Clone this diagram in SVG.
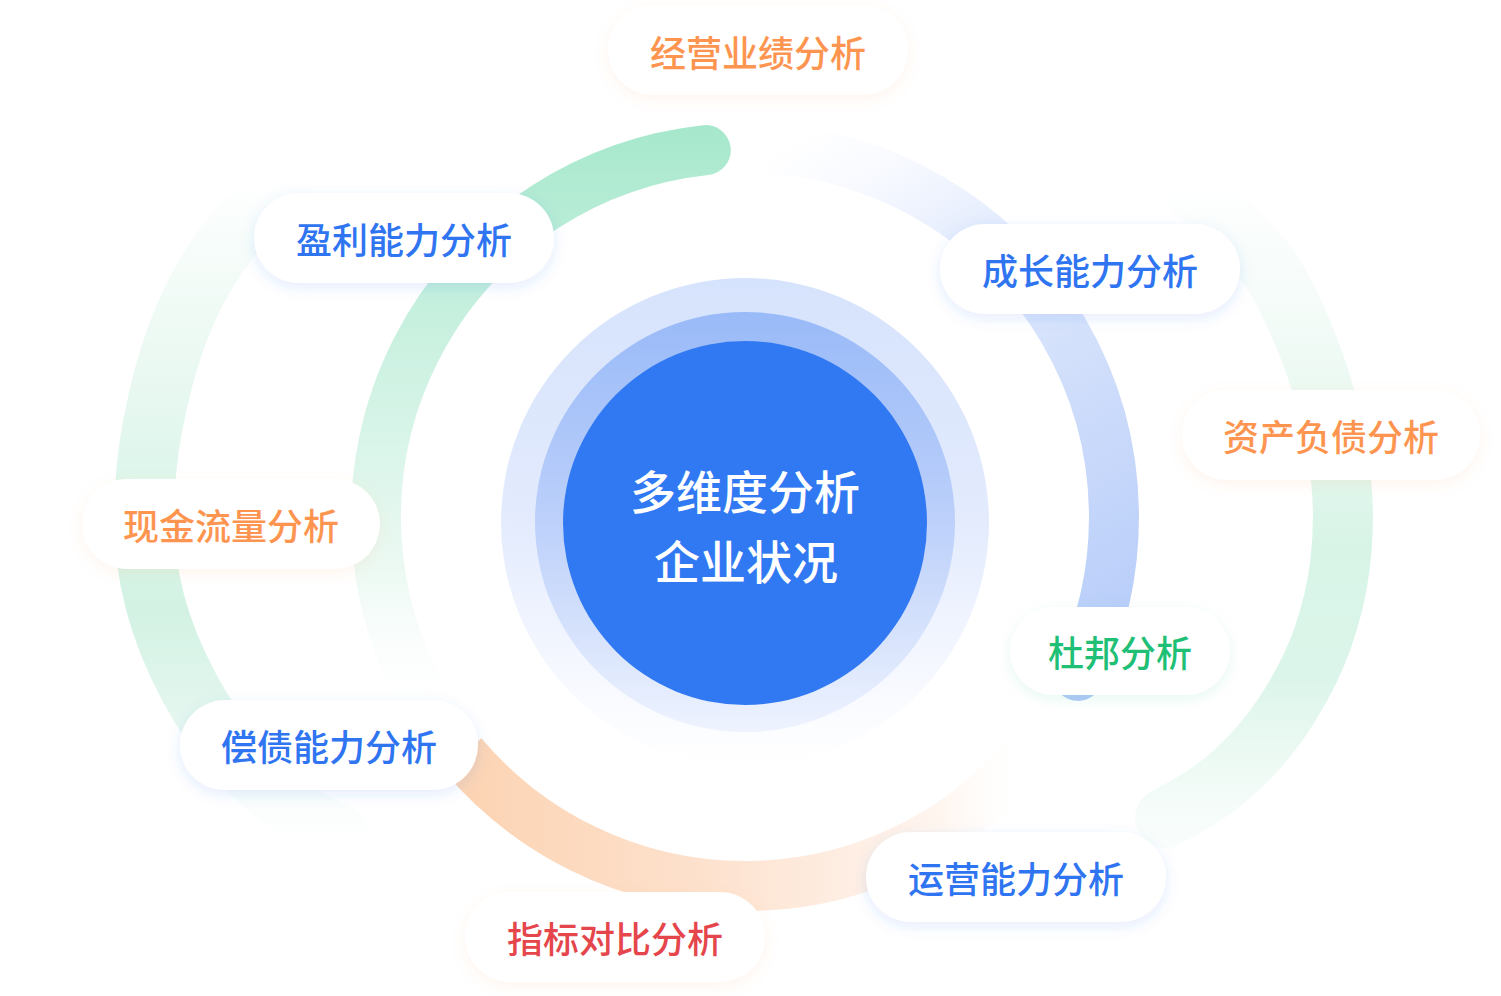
<svg xmlns="http://www.w3.org/2000/svg" width="1501" height="996" viewBox="0 0 1501 996">
<style>
.pill{fill:#ffffff}
.t{font-family:"Noto Sans CJK SC","Noto Sans",sans-serif;font-size:36px;font-weight:500;text-anchor:middle;dominant-baseline:central}
.blue{fill:#2f74f0}
.orange{fill:#fd9550}
.green{fill:#1fbf76}
.red{fill:#e5464b}
.center{font-family:"Noto Sans CJK SC","Noto Sans",sans-serif;font-size:46px;font-weight:500;fill:#ffffff;text-anchor:middle;dominant-baseline:central}
.arc{fill:none}
</style>
<defs>
<filter id="shB" x="-20%" y="-50%" width="140%" height="200%">
<feDropShadow dx="0" dy="4" stdDeviation="7" flood-color="#2f6ef0" flood-opacity="0.13"/>
</filter>
<filter id="shO" x="-20%" y="-50%" width="140%" height="200%">
<feDropShadow dx="0" dy="4" stdDeviation="7" flood-color="#ff9a4f" flood-opacity="0.10"/>
</filter>
<filter id="shG" x="-20%" y="-50%" width="140%" height="200%">
<feDropShadow dx="0" dy="4" stdDeviation="7" flood-color="#22c17a" flood-opacity="0.10"/>
</filter>
<linearGradient id="gOuterL" gradientUnits="userSpaceOnUse" x1="0" y1="180" x2="0" y2="845">
<stop offset="0" stop-color="#e6f8ef" stop-opacity="0"/>
<stop offset="0.25" stop-color="#e9f8f1" stop-opacity="0.85"/>
<stop offset="0.5" stop-color="#d9f5e9"/>
<stop offset="0.65" stop-color="#d3f2e4"/>
<stop offset="0.82" stop-color="#e6f7ef"/>
<stop offset="1" stop-color="#f6fcf9" stop-opacity="0"/>
</linearGradient>
<linearGradient id="gOuterR" gradientUnits="userSpaceOnUse" x1="0" y1="185" x2="0" y2="845">
<stop offset="0" stop-color="#eaf9f2" stop-opacity="0"/>
<stop offset="0.12" stop-color="#f1faf6" stop-opacity="0.5"/>
<stop offset="0.3" stop-color="#ecf9f3"/>
<stop offset="0.55" stop-color="#d8f4e7"/>
<stop offset="0.75" stop-color="#dcf5ea"/>
<stop offset="1" stop-color="#f6fcf9" stop-opacity="0.6"/>
</linearGradient>
<linearGradient id="gInG" gradientUnits="userSpaceOnUse" x1="0" y1="125" x2="0" y2="720">
<stop offset="0" stop-color="#a6e8cc"/>
<stop offset="0.25" stop-color="#c1eedb"/>
<stop offset="0.5" stop-color="#d6f4e7"/>
<stop offset="0.75" stop-color="#ecf9f3"/>
<stop offset="1" stop-color="#ffffff" stop-opacity="0"/>
</linearGradient>
<linearGradient id="gInB" gradientUnits="userSpaceOnUse" x1="770" y1="150" x2="1080" y2="700">
<stop offset="0" stop-color="#f4f7ff" stop-opacity="0"/>
<stop offset="0.25" stop-color="#e7eefd"/>
<stop offset="0.55" stop-color="#d0defb"/>
<stop offset="1" stop-color="#b3caf9"/>
</linearGradient>
<linearGradient id="gInO" gradientUnits="userSpaceOnUse" x1="455" y1="0" x2="1030" y2="0">
<stop offset="0" stop-color="#fcd3b2"/>
<stop offset="0.4" stop-color="#fde0cb"/>
<stop offset="0.65" stop-color="#feece0"/>
<stop offset="0.85" stop-color="#fff6f0"/>
<stop offset="1" stop-color="#ffffff" stop-opacity="0"/>
</linearGradient>
<linearGradient id="gHalo" x1="0" y1="0" x2="0" y2="1">
<stop offset="0" stop-color="#d6e3fc"/>
<stop offset="0.5" stop-color="#e3ebfd"/>
<stop offset="0.9" stop-color="#fbfcff"/>
<stop offset="1" stop-color="#ffffff"/>
</linearGradient>
<linearGradient id="gMid" x1="0" y1="0" x2="0" y2="1">
<stop offset="0" stop-color="#99baf8"/>
<stop offset="0.5" stop-color="#bcd0fa"/>
<stop offset="1" stop-color="#eef3fe"/>
</linearGradient>
</defs>
<rect x="0" y="0" width="1501" height="996" fill="#ffffff"/>

<g id="connectors">
<path id="outer-left" class="arc" stroke="url(#gOuterL)" stroke-width="60" stroke-linecap="round" d="M285,180 C275,190.8 241.7,222.5 225,245 C208.3,267.5 196.2,289.2 185,315 C173.8,340.8 164.7,370.8 158,400 C151.3,429.2 146.3,460 145,490 C143.7,520 144.5,550.8 150,580 C155.5,609.2 164.7,636.7 178,665 C191.3,693.3 211.3,726.3 230,750 C248.7,773.7 271.7,792.8 290,807 C308.3,821.2 331.7,830.3 340,835"/>
<path id="outer-right" class="arc" stroke="url(#gOuterR)" stroke-width="60" stroke-linecap="round" d="M1195,190 C1202.5,197.5 1225.8,219.2 1240,235 C1254.2,250.8 1266.7,260.8 1280,285 C1293.3,309.2 1309.8,347.5 1320,380 C1330.2,412.5 1337.7,449.2 1341,480 C1344.3,510.8 1343.2,538.3 1340,565 C1336.8,591.7 1330.3,616.7 1322,640 C1313.7,663.3 1302,685.5 1290,705 C1278,724.5 1263.7,742.3 1250,757 C1236.3,771.7 1222.2,782.8 1208,793 C1193.8,803.2 1172.2,813.8 1165,818"/>
<path id="inner-green" class="arc" stroke="url(#gInG)" stroke-width="50" stroke-linecap="round" d="M705.8,150.1 A369,369 0 0 0 425.4,701.5"/>
<path id="inner-blue" class="arc" stroke="url(#gInB)" stroke-width="50" stroke-linecap="round" d="M770.7,148.9 A369,369 0 0 1 1078,675.9"/>
<path id="inner-orange" class="arc" stroke="url(#gInO)" stroke-width="50" stroke-linecap="butt" d="M462.3,754.2 A369,369 0 0 0 1027.7,754.2"/>
</g>

<g id="core">
<circle cx="745" cy="522" r="244" fill="url(#gHalo)"/>
<circle cx="745" cy="522" r="210" fill="url(#gMid)"/>
<circle cx="745" cy="523" r="182" fill="#3179f2"/>
<text class="center" x="745" y="489">多维度分析</text>
<text class="center" x="746" y="559">企业状况</text>
</g>

<g id="node-jingying">
<rect class="pill" x="608" y="5" width="300" height="90" rx="45" filter="url(#shO)"/>
<text class="t orange" x="758" y="51">经营业绩分析</text>
</g>
<g id="node-yingli">
<rect class="pill" x="254" y="193" width="300" height="90" rx="45" filter="url(#shB)"/>
<text class="t blue" x="404" y="238">盈利能力分析</text>
</g>
<g id="node-chengzhang">
<rect class="pill" x="940" y="224" width="300" height="90" rx="45" filter="url(#shB)"/>
<text class="t blue" x="1090" y="269">成长能力分析</text>
</g>
<g id="node-zichan">
<rect class="pill" x="1182" y="390" width="298" height="90" rx="45" filter="url(#shO)"/>
<text class="t orange" x="1331" y="435">资产负债分析</text>
</g>
<g id="node-xianjin">
<rect class="pill" x="82" y="479" width="298" height="90" rx="45" filter="url(#shO)"/>
<text class="t orange" x="231" y="524">现金流量分析</text>
</g>
<g id="node-dubang">
<rect class="pill" x="1010" y="607" width="220" height="88" rx="44" filter="url(#shG)"/>
<text class="t green" x="1120" y="651">杜邦分析</text>
</g>
<g id="node-changzhai">
<rect class="pill" x="180" y="700" width="298" height="90" rx="45" filter="url(#shB)"/>
<text class="t blue" x="329" y="745">偿债能力分析</text>
</g>
<g id="node-yunying">
<rect class="pill" x="866" y="832" width="300" height="90" rx="45" filter="url(#shB)"/>
<text class="t blue" x="1016" y="877">运营能力分析</text>
</g>
<g id="node-zhibiao">
<rect class="pill" x="465" y="892" width="300" height="90" rx="45" filter="url(#shO)"/>
<text class="t red" x="615" y="937">指标对比分析</text>
</g>
</svg>
